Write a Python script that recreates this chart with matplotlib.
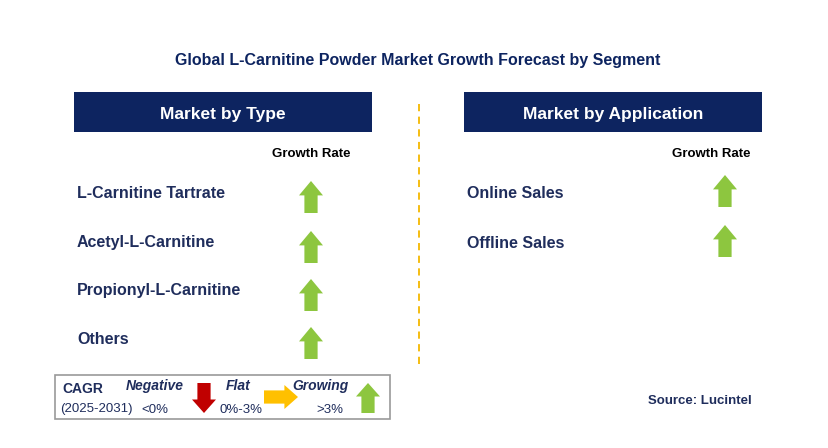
import matplotlib
matplotlib.use("Agg")
import matplotlib.pyplot as plt
from matplotlib.patches import Rectangle, Polygon

plt.rcParams["font.family"] = "Liberation Sans"

title = "Global L-Carnitine Powder Market Growth Forecast by Segment"
type_segments = ["L-Carnitine Tartrate", "Acetyl-L-Carnitine", "Propionyl-L-Carnitine", "Others"]
type_growth = ["up", "up", "up", "up"]
app_segments = ["Online Sales", "Offline Sales"]
app_growth = ["up", "up"]

NAVY = "#0d2460"
GREEN = "#8dc63f"
TXT = "#1f2d5c"

fig = plt.figure(figsize=(8.29, 4.48), dpi=100)
ax = fig.add_axes([0, 0, 1, 1])
ax.set_xlim(0, 829); ax.set_ylim(448, 0); ax.axis("off")

def up_arrow(cx, cy, color=GREEN, w=24, h=32):
    top = cy - h/2; bot = cy + h/2; hh = h*0.45; sw = w*0.55
    pts = [(cx, top), (cx + w/2, top + hh), (cx + sw/2, top + hh), (cx + sw/2, bot),
           (cx - sw/2, bot), (cx - sw/2, top + hh), (cx - w/2, top + hh)]
    ax.add_patch(Polygon(pts, closed=True, color=color, lw=0))

def down_arrow(cx, cy, color="#c00000", w=24, h=32):
    top = cy - h/2; bot = cy + h/2; hh = h*0.45; sw = w*0.55
    pts = [(cx, bot), (cx + w/2, bot - hh), (cx + sw/2, bot - hh), (cx + sw/2, top),
           (cx - sw/2, top), (cx - sw/2, bot - hh), (cx - w/2, bot - hh)]
    ax.add_patch(Polygon(pts, closed=True, color=color, lw=0))

def right_arrow(cx, cy, color="#ffc000", w=34, h=24):
    l = cx - w/2; r = cx + w/2; hw = w*0.4; sh = h*0.55
    pts = [(r, cy), (r - hw, cy - h/2), (r - hw, cy - sh/2), (l, cy - sh/2),
           (l, cy + sh/2), (r - hw, cy + sh/2), (r - hw, cy + h/2)]
    ax.add_patch(Polygon(pts, closed=True, color=color, lw=0))

d = 2  # baseline adjustment for Liberation Sans
ax.text(418, 58 + d, title, ha="center", va="center", fontsize=11.5, fontweight="bold", color=NAVY)

for x0, label in [(74, "Market by Type"), (464, "Market by Application")]:
    ax.add_patch(Rectangle((x0, 92), 298, 40, color=NAVY, lw=0))
    ax.text(x0 + 149, 112 + d, label, ha="center", va="center", fontsize=12.5, fontweight="bold", color="white")

ax.plot([419, 419], [104, 368], ls=(0, (4, 3)), color="#f5b800", lw=1.3)

ax.text(311, 152 + d, "Growth Rate", ha="center", va="center", fontsize=9.5, fontweight="bold", color="black")
ax.text(711, 152 + d, "Growth Rate", ha="center", va="center", fontsize=9.5, fontweight="bold", color="black")

ys = [191, 241, 289, 337]
for y, s, g in zip(ys, type_segments, type_growth):
    ax.text(77, y + d, s, ha="left", va="center", fontsize=11.5, fontweight="bold", color=TXT)
    if g == "up":
        up_arrow(311, y + 6)
for y, s, g in zip(ys, app_segments, app_growth):
    ax.text(467, y + d, s, ha="left", va="center", fontsize=11.5, fontweight="bold", color=TXT)
    if g == "up":
        up_arrow(725, y)

ax.add_patch(Rectangle((55, 375), 335, 44, fill=False, ec="#999999", lw=1.2))
ax.text(62, 389, "CAGR", ha="left", va="center", fontsize=10, fontweight="bold", color=TXT)
ax.text(60, 409, "(2025-2031)", ha="left", va="center", fontsize=9.5, color=TXT)
ax.text(155, 386, "Negative", ha="center", va="center", fontsize=10, fontweight="bold", style="italic", color=TXT)
ax.text(155, 410, "<0%", ha="center", va="center", fontsize=9.5, color=TXT)
down_arrow(204, 398, w=24, h=30)
ax.text(238, 386, "Flat", ha="center", va="center", fontsize=10, fontweight="bold", style="italic", color=TXT)
ax.text(241, 410, "0%-3%", ha="center", va="center", fontsize=9.5, color=TXT)
right_arrow(281, 397, w=34, h=24)
ax.text(320, 386, "Growing", ha="center", va="center", fontsize=10, fontweight="bold", style="italic", color=TXT)
ax.text(330, 410, ">3%", ha="center", va="center", fontsize=9.5, color=TXT)
up_arrow(368, 398, w=24, h=30)

ax.text(700, 401, "Source: Lucintel", ha="center", va="center", fontsize=9.5, fontweight="bold", color=TXT)

fig.savefig("out.png", dpi=100)
